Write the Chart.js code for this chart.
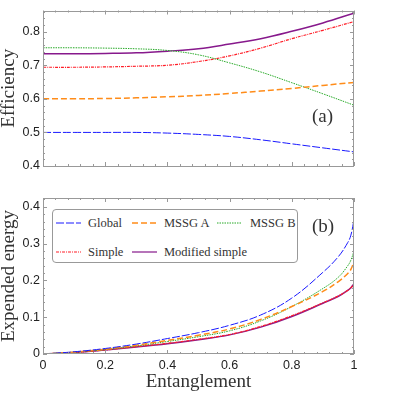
<!DOCTYPE html>
<html>
<head>
<meta charset="utf-8">
<script src="https://cdn.jsdelivr.net/npm/chart.js@4.4.1/dist/chart.umd.min.js"></script>
<style>
    body { margin: 0; background: #fff; }
    #wrap { position: relative; width: 399px; height: 399px; overflow: hidden; }
    #top { position: absolute; left: 0; top: 0; width: 399px; height: 180px; }
    #bot { position: absolute; left: 0; top: 180px; width: 399px; height: 219px; }
    .tag { position: absolute; font-family: "Liberation Serif", serif; font-size: 19px; line-height: 19px; color: #333; }
    #legend { position: absolute; left: 52px; top: 209px; width: 244px; height: 52px; border: 1px solid #999; border-radius: 4px; background: #fff; }
    .item { position: absolute; height: 14px; font-family: "Liberation Serif", serif; font-size: 12.5px; line-height: 14px; color: #333; white-space: nowrap; }
    .item svg { position: absolute; left: 0; top: 5px; }
    .item span { position: absolute; top: 0; }
</style>
</head>
<body>
<div id="wrap">
    <div id="top"><canvas id="effChart"></canvas></div>
    <div id="bot"><canvas id="energyChart"></canvas></div>
    <div class="tag" style="left:312px; top:106px;">(a)</div>
    <div class="tag" style="left:312px; top:216px;">(b)</div>
    <div id="legend"></div>
</div>
<script>
// panel (a): efficiency vs entanglement
const entTop = [0, 0.1, 0.2, 0.3, 0.4, 0.5, 0.6, 0.7, 0.8, 0.9, 1]
const effGlobal = [0.500, 0.500, 0.500, 0.500, 0.498, 0.494, 0.488, 0.478, 0.466, 0.454, 0.442]
const effMssgA = [0.600, 0.600, 0.601, 0.603, 0.606, 0.610, 0.616, 0.623, 0.631, 0.640, 0.649]
const effMssgB = [0.752, 0.752, 0.751, 0.749, 0.744, 0.731, 0.707, 0.680, 0.648, 0.615, 0.581]
const effSimple = [0.694, 0.694, 0.695, 0.697, 0.700, 0.711, 0.728, 0.751, 0.779, 0.804, 0.830]
const effModified = [0.734, 0.734, 0.735, 0.737, 0.742, 0.749, 0.763, 0.779, 0.801, 0.826, 0.855]

// panel (b): expended energy vs entanglement
const entBot = [0, 0.1, 0.2, 0.3, 0.4, 0.5, 0.6, 0.7, 0.8, 0.9, 0.95, 0.98, 0.99, 1]
const enGlobal = [0, 0.006, 0.015, 0.027, 0.042, 0.058, 0.078, 0.106, 0.152, 0.222, 0.265, 0.303, 0.323, 0.365]
const enMssgA = [0, 0.005, 0.013, 0.024, 0.037, 0.051, 0.068, 0.094, 0.129, 0.170, 0.197, 0.219, 0.230, 0.250]
const enMssgB = [0, 0.005, 0.012, 0.022, 0.034, 0.047, 0.063, 0.090, 0.129, 0.178, 0.209, 0.240, 0.255, 0.280]
const enSimple = [0, 0.004, 0.011, 0.020, 0.029, 0.040, 0.053, 0.075, 0.104, 0.139, 0.158, 0.173, 0.180, 0.190]
const enModified = [0, 0.004, 0.011, 0.019, 0.028, 0.039, 0.052, 0.073, 0.102, 0.138, 0.157, 0.173, 0.180, 0.191]

const xTicks = [0, 0.2, 0.4, 0.6, 0.8, 1]
const xTickLabels = ["0", "0.2", "0.4", "0.6", "0.8", "1"]
const effTicks = [0.4, 0.5, 0.6, 0.7, 0.8]
const effTickLabels = ["0.4", "0.5", "0.6", "0.7", "0.8"]
const enTicks = [0, 0.1, 0.2, 0.3, 0.4]
const enTickLabels = ["0", "0.1", "0.2", "0.3", "0.4"]

const seriesNames = ["Global", "MSSG A", "MSSG B", "Simple", "Modified simple"]

const styles = [
    { color: "rgb(25,25,255)", width: 1, dash: [8, 2] },
    { color: "rgb(255,140,25)", width: 1.5, dash: [6, 3] },
    { color: "rgb(40,170,40)", width: 1, dash: [1.5, 1] },
    { color: "rgb(255,30,40)", width: 1.2, dash: [3, 1, 1, 1] },
    { color: "rgb(135,25,140)", width: 1.5, dash: [] }
]

function makeSets(xs, list) {
    return list.map((ys, i) => ({
        label: seriesNames[i],
        data: xs.map((x, k) => ({ x: x, y: ys[k] })),
        borderColor: styles[i].color,
        borderWidth: styles[i].width,
        borderDash: styles[i].dash,
        pointRadius: 0,
        fill: false,
        tension: 0.4
    }))
}

// frame + inward ticks on all four sides
const frameTicks = {
    id: "frameTicks",
    afterDatasetsDraw(chart, args, opts) {
        const ctx = chart.ctx
        const a = chart.chartArea
        const x = chart.scales.x
        const y = chart.scales.y
        ctx.save()
        ctx.strokeStyle = "#999"
        ctx.lineWidth = 1
        ctx.beginPath()
        for (let i = 0; i <= 25; i++) {
            const px = Math.round(x.getPixelForValue(i * 0.04)) + 0.5
            const len = i % 5 === 0 ? 4 : 2
            ctx.moveTo(px, a.bottom); ctx.lineTo(px, a.bottom - len)
            ctx.moveTo(px, a.top); ctx.lineTo(px, a.top + len)
        }
        const n = Math.floor((y.max - opts.from) / 0.02 + 1e-6)
        for (let i = 0; i <= n; i++) {
            const py = Math.round(y.getPixelForValue(opts.from + i * 0.02)) + 0.5
            const len = i % 5 === 0 ? 4 : 2
            ctx.moveTo(a.left, py); ctx.lineTo(a.left + len, py)
            ctx.moveTo(a.right, py); ctx.lineTo(a.right - len, py)
        }
        ctx.stroke()
        ctx.strokeRect(Math.round(a.left) + 0.5, Math.round(a.top) + 0.5,
            Math.round(a.right - a.left) - 1, Math.round(a.bottom - a.top) - 1)
        ctx.restore()
    }
}

const tickFont = { family: "Liberation Sans", size: 12.5 }
const titleFont = { family: "Liberation Serif", size: 19, lineHeight: 1 }

function xAxis(showLabels, height) {
    return {
        type: "linear", min: 0, max: 1,
        grid: { display: false, drawTicks: false }, border: { display: false },
        afterBuildTicks: s => { s.ticks = xTicks.map(v => ({ value: v })) },
        ticks: { display: showLabels, font: tickFont, color: "#222", padding: 4, maxRotation: 0,
            callback: (v, i) => xTickLabels[i] },
        title: { display: showLabels, text: "Entanglement", font: titleFont, color: "#333", padding: { top: 0, bottom: 7 } },
        afterFit: s => { s.height = height }
    }
}

function yAxis(min, max, ticks, labels, title) {
    return {
        type: "linear", min: min, max: max,
        grid: { display: false, drawTicks: false }, border: { display: false },
        afterBuildTicks: s => { s.ticks = ticks.map(v => ({ value: v })) },
        ticks: { font: tickFont, color: "#222", padding: 3, callback: (v, i) => labels[i] },
        title: { display: true, text: title, font: titleFont, color: "#333", padding: 0 },
        afterFit: s => { s.width = 43 }
    }
}

Chart.defaults.animation = false
Chart.defaults.responsive = true
Chart.defaults.maintainAspectRatio = false

new Chart(document.getElementById("effChart"), {
    type: "line",
    data: { datasets: makeSets(entTop, [effGlobal, effMssgA, effMssgB, effSimple, effModified]) },
    options: {
        layout: { padding: { left: 0, top: 10, right: 45, bottom: 0 } },
        scales: { x: xAxis(false, 14), y: yAxis(0.4, 0.863, effTicks, effTickLabels, "Efficiency") },
        plugins: { legend: { display: false }, tooltip: { enabled: false }, frameTicks: { from: 0.4 } }
    },
    plugins: [frameTicks]
})

new Chart(document.getElementById("energyChart"), {
    type: "line",
    data: { datasets: makeSets(entBot, [enGlobal, enMssgA, enMssgB, enSimple, enModified]) },
    options: {
        layout: { padding: { left: 0, top: 18, right: 45, bottom: 0 } },
        scales: { x: xAxis(true, 45), y: yAxis(0, 0.424, enTicks, enTickLabels, "Expended energy") },
        plugins: { legend: { display: false }, tooltip: { enabled: false }, frameTicks: { from: 0 } }
    },
    plugins: [frameTicks]
})

// legend box inside panel (b)
const legend = document.getElementById("legend")
const spots = [[3, 6], [79, 6], [164, 6], [3, 35], [79, 35]]
const textGap = [32, 32, 33, 32, 32]
seriesNames.forEach((name, i) => {
    const item = document.createElement("div")
    item.className = "item"
    item.style.left = spots[i][0] + "px"
    item.style.top = spots[i][1] + "px"
    const st = styles[i]
    const w = i === 4 ? 2 : st.width
    item.innerHTML = `<svg width="25" height="4"><line x1="0" y1="2" x2="25" y2="2" stroke="${st.color}"
        stroke-width="${w}" stroke-dasharray="${st.dash.join(" ") || "none"}" opacity="${i === 4 ? 0.6 : 1}"/></svg>
        <span style="left:${textGap[i]}px">${name}</span>`
    legend.appendChild(item)
})
</script>
</body>
</html>
